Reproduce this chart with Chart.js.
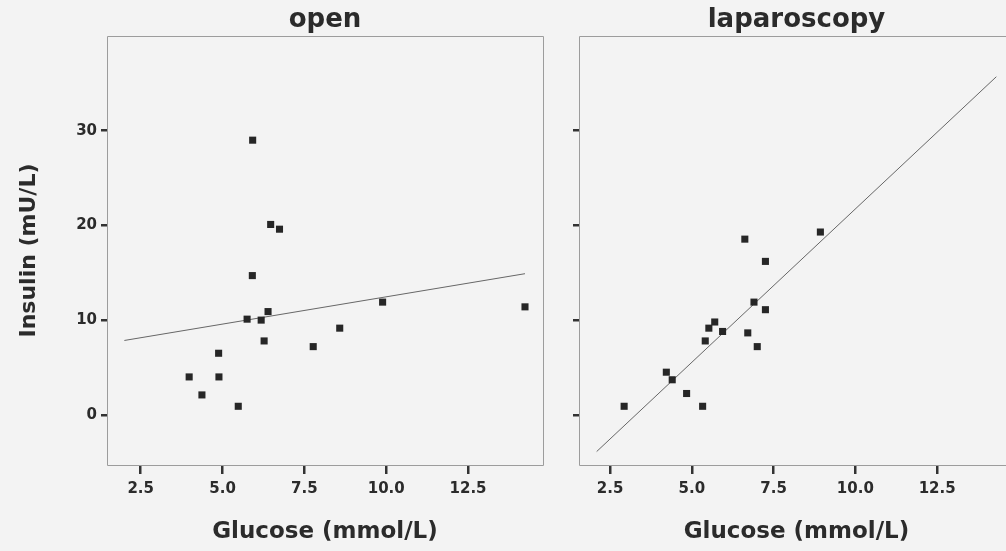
<!DOCTYPE html>
<html>
<head>
<meta charset="utf-8">
<script src="https://cdn.jsdelivr.net/npm/chart.js@4/dist/chart.umd.min.js"></script>
<style>
  html, body { margin: 0; padding: 0; overflow: hidden; background: #f3f3f3; }
  body { width: 1006px; height: 551px; position: relative; }
  .panel { position: absolute; top: 0; height: 551px; }
  #left { left: 0; width: 560px; }
  #right { left: 540px; width: 520px; }
</style>
</head>
<body>
<div class="panel" id="left"><canvas id="openChart"></canvas></div>
<div class="panel" id="right"><canvas id="lapChart"></canvas></div>
<script>
// open surgery group
var openGlucose = [5.92, 6.47, 6.74, 5.91, 6.39, 5.75, 6.18, 9.89, 14.24, 8.58, 6.27, 7.77, 4.88, 3.98, 4.89, 4.37, 5.48]
var openInsulin = [29.0, 20.1, 19.6, 14.7, 10.9, 10.1, 10.0, 11.9, 11.4, 9.15, 7.8, 7.2, 6.5, 4.0, 4.0, 2.1, 0.9]
var openFitX = [2.0, 14.24]
var openFitY = [7.85, 14.9]

// laparoscopy group
var lapGlucose = [2.93, 4.22, 4.40, 4.84, 5.33, 5.41, 5.52, 5.70, 5.94, 6.71, 7.0, 6.90, 7.25, 6.62, 7.25, 8.93]
var lapInsulin = [0.9, 4.5, 3.7, 2.25, 0.9, 7.8, 9.15, 9.8, 8.8, 8.65, 7.2, 11.9, 11.1, 18.55, 16.2, 19.3]
var lapFitX = [2.09, 14.31]
var lapFitY = [-3.88, 35.7]

// tick labels
var xTicks = [2.5, 5.0, 7.5, 10.0, 12.5]
var yTicks = [0, 10, 20, 30]

var FONT = 'DejaVu Sans'
var TEXT = '#2b2b2b'

function pts(xs, ys) {
  return xs.map(function (x, i) { return { x: x, y: ys[i] } })
}

// thin frame round the plot area (right edge of the second panel runs off the page)
var boxPlugin = {
  id: 'box',
  beforeDatasetsDraw: function (chart, args, opts) {
    var a = chart.chartArea, c = chart.ctx
    var l = Math.round(a.left) + 0.5, r = Math.round(a.right) + 0.5
    var t = Math.round(a.top) + 0.5, b = Math.round(a.bottom) + 0.5
    c.save()
    c.strokeStyle = '#9c9c9c'
    c.lineWidth = 1
    c.beginPath()
    c.moveTo(l, t); c.lineTo(r, t)
    c.moveTo(l, b); c.lineTo(r, b)
    c.moveTo(l, t); c.lineTo(l, b)
    if (opts.right) { c.moveTo(r, t); c.lineTo(r, b) }
    c.stroke()
    c.restore()
  }
}

function makeChart(id, title, gx, gy, fx, fy, xMin, xMax, yWidth, padRight, showY) {
  return new Chart(document.getElementById(id), {
    type: 'scatter',
    data: {
      datasets: [
        {
          data: pts(gx, gy),
          backgroundColor: '#262626',
          borderWidth: 0,
          pointStyle: 'rect',
          pointRadius: 5,
          pointHoverRadius: 5
        },
        {
          type: 'line',
          data: pts(fx, fy),
          borderColor: '#666666',
          borderWidth: 1,
          pointRadius: 0,
          fill: false
        }
      ]
    },
    options: {
      responsive: true,
      maintainAspectRatio: false,
      animation: false,
      layout: { padding: { top: 0, right: padRight, bottom: 0, left: 0 } },
      plugins: {
        legend: { display: false },
        tooltip: { enabled: false },
        box: { right: showY },
        title: {
          display: true,
          text: title,
          fullSize: false,
          color: TEXT,
          font: { family: FONT, size: 26, weight: 'bold', lineHeight: 1 },
          padding: { top: 7, bottom: 3 }
        }
      },
      scales: {
        x: {
          type: 'linear',
          min: xMin,
          max: xMax,
          afterBuildTicks: function (s) { s.ticks = xTicks.map(function (v) { return { value: v } }) },
          afterFit: function (s) { s.height = 86 },
          border: { display: false },
          grid: { drawOnChartArea: false, drawTicks: true, tickLength: 9, lineWidth: 2.5, color: '#333' },
          ticks: {
            color: TEXT,
            font: { family: FONT, size: 15, weight: 'bold' },
            padding: 6,
            maxRotation: 0,
            autoSkip: false,
            callback: function (v) { return v.toFixed(1) }
          },
          title: {
            display: true,
            text: 'Glucose (mmol/L)',
            color: TEXT,
            font: { family: FONT, size: 23, weight: 'bold' },
            padding: { top: 0, bottom: 5 }
          }
        },
        y: {
          type: 'linear',
          min: -5.3,
          max: 40,
          afterBuildTicks: function (s) { s.ticks = yTicks.map(function (v) { return { value: v } }) },
          afterFit: function (s) { s.width = yWidth },
          border: { display: false },
          grid: { drawOnChartArea: false, drawTicks: true, tickLength: 6, lineWidth: 2.5, color: '#333' },
          ticks: {
            display: showY,
            color: TEXT,
            font: { family: FONT, size: 15, weight: 'bold' },
            padding: 4
          },
          title: {
            display: showY,
            text: 'Insulin (mU/L)',
            color: TEXT,
            font: { family: FONT, size: 22, weight: 'bold' },
            padding: { top: 16, bottom: 0 }
          }
        }
      }
    },
    plugins: [boxPlugin]
  })
}

makeChart('openChart', 'open', openGlucose, openInsulin, openFitX, openFitY, 1.47, 14.79, 107, 17, true)
makeChart('lapChart', 'laparoscopy', lapGlucose, lapInsulin, lapFitX, lapFitY, 1.55, 14.85, 39, 46, false)
</script>
</body>
</html>
